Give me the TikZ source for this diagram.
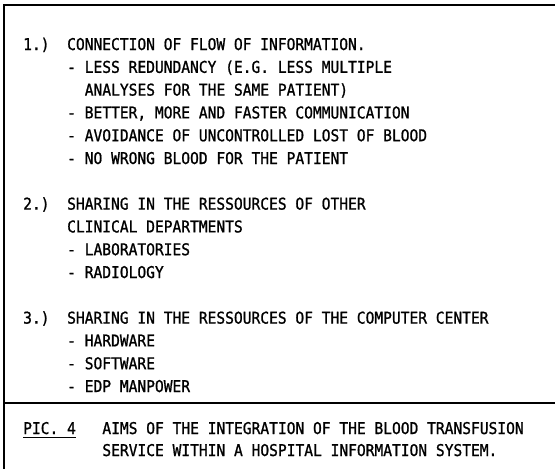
\documentclass[tikz,border=0pt]{standalone}
\usepackage{fontspec}
\newfontfamily\typer{DejaVu Sans Mono}[FakeStretch=0.9,FakeBold=1.1]
\begin{document}
\begin{tikzpicture}[x=1pt,y=-1pt,
  line/.style={anchor=base west,inner sep=0pt,font=\typer\fontsize{16.2}{20}\selectfont},
  frame/.style={line width=1.6pt}]
\useasboundingbox (0,0) rectangle (555,469);
% columns (typewriter pitch 8.8)
\def\cA{23}\def\cB{67}\def\cC{84.6}\def\cD{102.2}
% frame and divider
\coordinate (tl) at (4,5);
\coordinate (tr) at (555,5);
\coordinate (bl) at (4,469);
\coordinate (dl) at (4,403);
\coordinate (dr) at (555,403);
\draw[frame] (tr) -- (tl) -- (bl);
\draw[frame] (dl) -- (dr);
% section 1
\node[line] (n1) at (\cA,50) {1.)};
\node[line] (t1) at (\cB,50) {CONNECTION OF FLOW OF INFORMATION.};
\node[line] (t1a) at (\cB,72.8) {- LESS REDUNDANCY (E.G. LESS MULTIPLE};
\node[line] (t1b) at (\cC,95.6) {ANALYSES FOR THE SAME PATIENT)};
\node[line] (t1c) at (\cB,118.4) {- BETTER, MORE AND FASTER COMMUNICATION};
\node[line] (t1d) at (\cB,141.2) {- AVOIDANCE OF UNCONTROLLED LOST OF BLOOD};
\node[line] (t1e) at (\cB,164) {- NO WRONG BLOOD FOR THE PATIENT};
% section 2
\node[line] (n2) at (\cA,209.6) {2.)};
\node[line] (t2) at (\cB,209.6) {SHARING IN THE RESSOURCES OF OTHER};
\node[line] (t2x) at (\cB,232.4) {CLINICAL DEPARTMENTS};
\node[line] (t2a) at (\cB,255.2) {- LABORATORIES};
\node[line] (t2b) at (\cB,278) {- RADIOLOGY};
% section 3
\node[line] (n3) at (\cA,323.6) {3.)};
\node[line] (t3) at (\cB,323.6) {SHARING IN THE RESSOURCES OF THE COMPUTER CENTER};
\node[line] (t3a) at (\cB,346.4) {- HARDWARE};
\node[line] (t3b) at (\cB,369.2) {- SOFTWARE};
\node[line] (t3c) at (\cB,392) {- EDP MANPOWER};
% caption
\node[line] (pic) at (\cA,434) {PIC. 4};
\draw[line width=1pt] ([yshift=-3pt]pic.base west) -- ([yshift=-3pt]pic.base east);
\node[line] (cap1) at (\cD,434) {AIMS OF THE INTEGRATION OF THE BLOOD TRANSFUSION};
\node[line] (cap2) at (\cD,456) {SERVICE WITHIN A HOSPITAL INFORMATION SYSTEM.};
\end{tikzpicture}
\end{document}
